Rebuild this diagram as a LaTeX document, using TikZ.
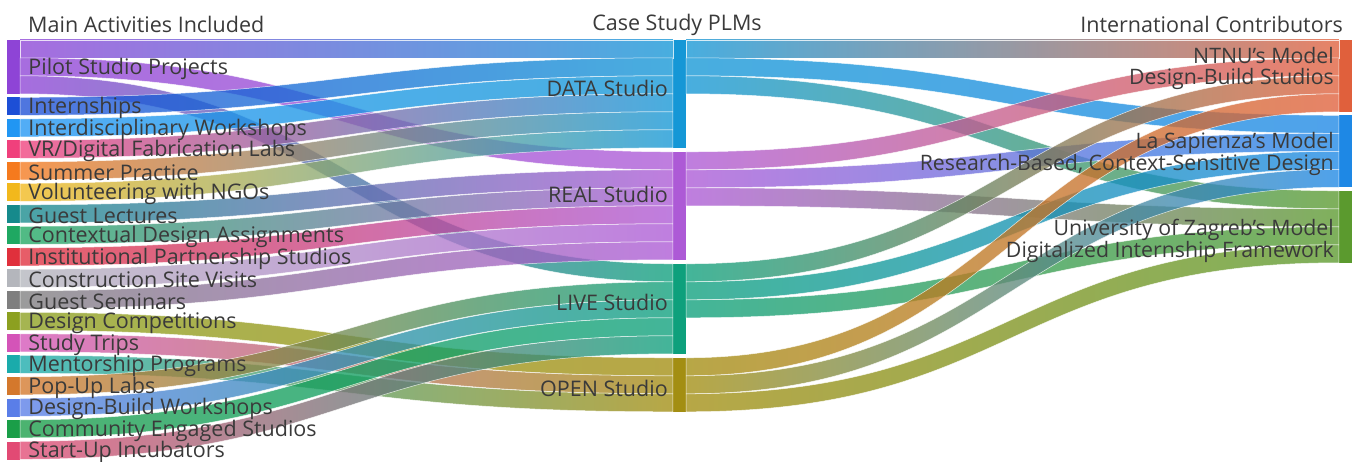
\documentclass[tikz,border=0pt]{standalone}
\usepackage{fontspec}
\setmainfont{Open Sans}
\usetikzlibrary{calc}

\definecolor{txt}{HTML}{3A3A3A}
% activities
\definecolor{cpilot}{HTML}{8E44D6}
\definecolor{cintern}{HTML}{1D4FD6}
\definecolor{cinterd}{HTML}{2196F3}
\definecolor{cvr}{HTML}{F0407C}
\definecolor{csummer}{HTML}{F57A1E}
\definecolor{cvolunt}{HTML}{F2B81C}
\definecolor{cglect}{HTML}{168A8C}
\definecolor{ccontext}{HTML}{1FA862}
\definecolor{cinstit}{HTML}{E0303C}
\definecolor{cconstr}{HTML}{B4B6BC}
\definecolor{cgsemin}{HTML}{7F7F7F}
\definecolor{cdcomp}{HTML}{8CA020}
\definecolor{ctrips}{HTML}{D454B8}
\definecolor{cmentor}{HTML}{1AABAB}
\definecolor{cpopup}{HTML}{D4782C}
\definecolor{cdbuild}{HTML}{5A7EE8}
\definecolor{ccommun}{HTML}{1A9E48}
\definecolor{cstartup}{HTML}{E24A74}
% studios
\definecolor{cdata}{HTML}{1597D6}
\definecolor{creal}{HTML}{AD5AD6}
\definecolor{clive}{HTML}{0EA07C}
\definecolor{copen}{HTML}{A38E12}
% contributors
\definecolor{cntnu}{HTML}{E0603C}
\definecolor{csap}{HTML}{1E88E5}
\definecolor{czag}{HTML}{5B9A2E}

% band of one unit from slot #2 of node #1 to slot #4 of node #3
\newcommand{\flow}[6]{%
  \shade[left color=#5, right color=#6, opacity=.78, draw=white, line width=.5pt]
    let \p1=($(#1.north east)+(0,#2*18)$), \p2=($(#3.north west)+(0,#4*18)$),
        \p3=($(\p1)!.5!(\p2)$) in
    (\x1,\y1) .. controls (\x3,\y1) and (\x3,\y2) .. (\x2,\y2)
    -- (\x2,\y2-18pt) .. controls (\x3,\y2-18pt) and (\x3,\y1-18pt) .. (\x1,\y1-18pt) -- cycle;}

\begin{document}
\begin{tikzpicture}[x=1pt,y=-1pt,
    bar/.style={rectangle,inner sep=0pt,minimum width=13pt,draw=none},
    lbl/.style={inner sep=0pt,text=txt,font=\fontsize{21.5}{24}\selectfont},
    rlbl/.style={lbl,anchor=east,align=right,font=\fontsize{21.3}{21}\selectfont}]
\useasboundingbox (0,0) rectangle (1358,462);

\node[lbl,anchor=west] (t1) at (28,24.5) {Main Activities Included};
\node[lbl] (t2) at (677,24.5) {Case Study PLMs};
\node[lbl,anchor=east] (t3) at (1343,24.5) {International Contributors};

% activities
\node[bar,fill=cpilot,minimum height=54pt] (pilot) at (13.5,67) {};
\node[bar,fill=cintern,minimum height=18pt] (intern) at (13.5,106.5) {};
\node[bar,fill=cinterd,minimum height=18pt] (interd) at (13.5,128) {};
\node[bar,fill=cvr,minimum height=18pt] (vr) at (13.5,149.5) {};
\node[bar,fill=csummer,minimum height=18pt] (summer) at (13.5,171) {};
\node[bar,fill=cvolunt,minimum height=18pt] (volunt) at (13.5,192.5) {};
\node[bar,fill=cglect,minimum height=18pt] (glect) at (13.5,214) {};
\node[bar,fill=ccontext,minimum height=18pt] (context) at (13.5,235.5) {};
\node[bar,fill=cinstit,minimum height=18pt] (instit) at (13.5,257) {};
\node[bar,fill=cconstr,minimum height=18pt] (constr) at (13.5,278.5) {};
\node[bar,fill=cgsemin,minimum height=18pt] (gsemin) at (13.5,300) {};
\node[bar,fill=cdcomp,minimum height=18pt] (dcomp) at (13.5,321.5) {};
\node[bar,fill=ctrips,minimum height=18pt] (trips) at (13.5,343) {};
\node[bar,fill=cmentor,minimum height=18pt] (mentor) at (13.5,364.5) {};
\node[bar,fill=cpopup,minimum height=18pt] (popup) at (13.5,386) {};
\node[bar,fill=cdbuild,minimum height=18pt] (dbuild) at (13.5,407.5) {};
\node[bar,fill=ccommun,minimum height=18pt] (commun) at (13.5,429) {};
\node[bar,fill=cstartup,minimum height=18pt] (startup) at (13.5,450.5) {};

% studios
\node[bar,fill=cdata,minimum height=108pt] (data) at (679.5,94) {};
\node[bar,fill=creal,minimum height=108pt] (real) at (679.5,206) {};
\node[bar,fill=clive,minimum height=90pt] (live) at (679.5,309) {};
\node[bar,fill=copen,minimum height=54pt] (open) at (679.5,385) {};

% contributors
\node[bar,fill=cntnu,minimum height=72pt] (ntnu) at (1345.5,76) {};
\node[bar,fill=csap,minimum height=72pt] (sap) at (1345.5,151.5) {};
\node[bar,fill=czag,minimum height=72pt] (zag) at (1345.5,227) {};

\flow{pilot}{0}{data}{0}{cpilot}{cdata}
\flow{pilot}{1}{real}{0}{cpilot}{creal}
\flow{pilot}{2}{live}{0}{cpilot}{clive}
\flow{intern}{0}{data}{1}{cintern}{cdata}
\flow{interd}{0}{data}{2}{cinterd}{cdata}
\flow{vr}{0}{data}{3}{cvr}{cdata}
\flow{summer}{0}{data}{4}{csummer}{cdata}
\flow{volunt}{0}{data}{5}{cvolunt}{cdata}
\flow{glect}{0}{real}{1}{cglect}{creal}
\flow{context}{0}{real}{2}{ccontext}{creal}
\flow{instit}{0}{real}{3}{cinstit}{creal}
\flow{constr}{0}{real}{4}{cconstr}{creal}
\flow{gsemin}{0}{real}{5}{cgsemin}{creal}
\flow{dcomp}{0}{open}{0}{cdcomp}{copen}
\flow{trips}{0}{open}{1}{ctrips}{copen}
\flow{mentor}{0}{open}{2}{cmentor}{copen}
\flow{popup}{0}{live}{1}{cpopup}{clive}
\flow{dbuild}{0}{live}{2}{cdbuild}{clive}
\flow{commun}{0}{live}{3}{ccommun}{clive}
\flow{startup}{0}{live}{4}{cstartup}{clive}

\flow{data}{0}{ntnu}{0}{cdata}{cntnu}
\flow{data}{1}{sap}{0}{cdata}{csap}
\flow{data}{2}{zag}{0}{cdata}{czag}
\flow{real}{0}{ntnu}{1}{creal}{cntnu}
\flow{real}{1}{sap}{1}{creal}{csap}
\flow{real}{2}{zag}{1}{creal}{czag}
\flow{live}{0}{ntnu}{2}{clive}{cntnu}
\flow{live}{1}{sap}{2}{clive}{csap}
\flow{live}{2}{zag}{2}{clive}{czag}
\flow{open}{0}{ntnu}{3}{copen}{cntnu}
\flow{open}{1}{sap}{3}{copen}{csap}
\flow{open}{2}{zag}{3}{copen}{czag}

\foreach \n/\t in {pilot/Pilot Studio Projects, intern/Internships,
    interd/Interdisciplinary Workshops, vr/VR\slash Digital Fabrication Labs,
    summer/Summer Practice, volunt/Volunteering with NGOs, glect/Guest Lectures,
    context/Contextual Design Assignments, instit/Institutional Partnership Studios,
    constr/Construction Site Visits, gsemin/Guest Seminars, dcomp/Design Competitions,
    trips/Study Trips, mentor/Mentorship Programs, popup/Pop-Up Labs,
    dbuild/Design-Build Workshops, commun/Community Engaged Studios,
    startup/Start-Up Incubators}
  \node[lbl,anchor=west] (\n-l) at ([xshift=8pt,yshift=-1.5pt]\n.east) {\t};

\node[lbl,anchor=east] (data-l) at (668,88) {DATA Studio};
\node[lbl,anchor=east] (real-l) at (668,194) {REAL Studio};
\node[lbl,anchor=east] (live-l) at (668,302) {LIVE Studio};
\node[lbl,anchor=east] (open-l) at (668,388) {OPEN Studio};

\node[rlbl] (ntnu-l) at (1334,68.5) {NTNU’s Model\\Design-Build Studios};
\node[rlbl] (sap-l) at (1334,154) {La Sapienza’s Model\\Research-Based, Context-Sensitive Design};
\node[rlbl] (zag-l) at (1334,241) {University of Zagreb’s Model\\Digitalized Internship Framework};
\end{tikzpicture}
\end{document}
